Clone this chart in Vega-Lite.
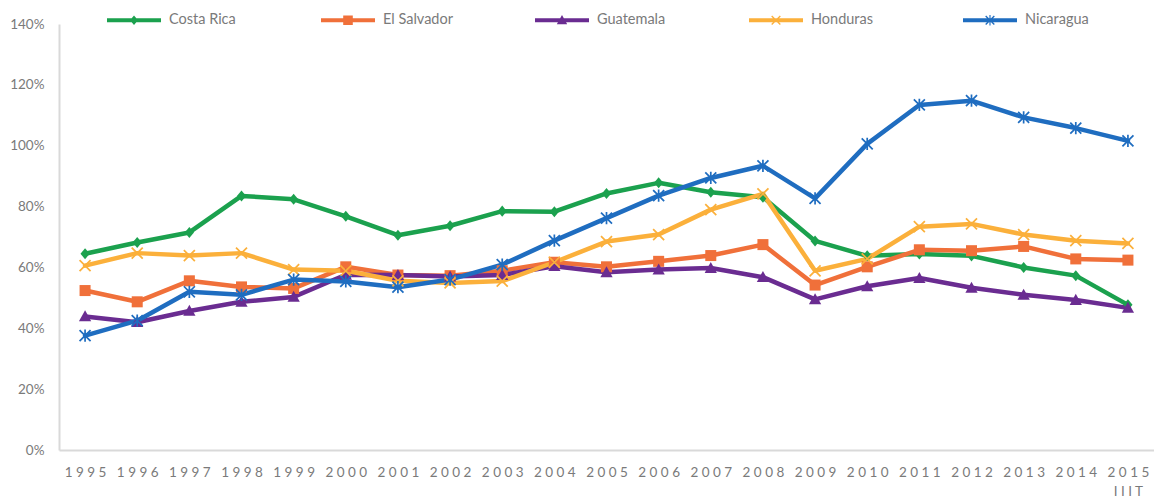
{
  "$schema": "https://vega.github.io/schema/vega-lite/v6.json",
  "width": 1095,
  "height": 426,
  "autosize": "none",
  "padding": {"left": 59, "top": 24, "right": 0, "bottom": 47},
  "background": "white",
  "config": {"view": {"stroke": null}, "font": "Lato"},
  "datasets": {
    "series": [
      {"year": "1995", "country": "Costa Rica", "value": 64.5},
      {"year": "1996", "country": "Costa Rica", "value": 68.2},
      {"year": "1997", "country": "Costa Rica", "value": 71.5},
      {"year": "1998", "country": "Costa Rica", "value": 83.5},
      {"year": "1999", "country": "Costa Rica", "value": 82.4},
      {"year": "2000", "country": "Costa Rica", "value": 76.8},
      {"year": "2001", "country": "Costa Rica", "value": 70.6},
      {"year": "2002", "country": "Costa Rica", "value": 73.7},
      {"year": "2003", "country": "Costa Rica", "value": 78.5},
      {"year": "2004", "country": "Costa Rica", "value": 78.3},
      {"year": "2005", "country": "Costa Rica", "value": 84.3},
      {"year": "2006", "country": "Costa Rica", "value": 87.8},
      {"year": "2007", "country": "Costa Rica", "value": 84.7},
      {"year": "2008", "country": "Costa Rica", "value": 83.1},
      {"year": "2009", "country": "Costa Rica", "value": 68.7},
      {"year": "2010", "country": "Costa Rica", "value": 63.8},
      {"year": "2011", "country": "Costa Rica", "value": 64.4},
      {"year": "2012", "country": "Costa Rica", "value": 63.8},
      {"year": "2013", "country": "Costa Rica", "value": 60.0},
      {"year": "2014", "country": "Costa Rica", "value": 57.3},
      {"year": "2015", "country": "Costa Rica", "value": 47.7},
      {"year": "1995", "country": "El Salvador", "value": 52.4},
      {"year": "1996", "country": "El Salvador", "value": 48.7},
      {"year": "1997", "country": "El Salvador", "value": 55.6},
      {"year": "1998", "country": "El Salvador", "value": 53.6},
      {"year": "1999", "country": "El Salvador", "value": 53.1},
      {"year": "2000", "country": "El Salvador", "value": 60.2},
      {"year": "2001", "country": "El Salvador", "value": 57.5},
      {"year": "2002", "country": "El Salvador", "value": 57.3},
      {"year": "2003", "country": "El Salvador", "value": 58.9},
      {"year": "2004", "country": "El Salvador", "value": 61.7},
      {"year": "2005", "country": "El Salvador", "value": 60.2},
      {"year": "2006", "country": "El Salvador", "value": 62.0},
      {"year": "2007", "country": "El Salvador", "value": 63.9},
      {"year": "2008", "country": "El Salvador", "value": 67.5},
      {"year": "2009", "country": "El Salvador", "value": 54.2},
      {"year": "2010", "country": "El Salvador", "value": 60.2},
      {"year": "2011", "country": "El Salvador", "value": 65.8},
      {"year": "2012", "country": "El Salvador", "value": 65.5},
      {"year": "2013", "country": "El Salvador", "value": 66.9},
      {"year": "2014", "country": "El Salvador", "value": 62.8},
      {"year": "2015", "country": "El Salvador", "value": 62.4},
      {"year": "1995", "country": "Guatemala", "value": 43.9},
      {"year": "1996", "country": "Guatemala", "value": 42.0},
      {"year": "1997", "country": "Guatemala", "value": 45.7},
      {"year": "1998", "country": "Guatemala", "value": 48.7},
      {"year": "1999", "country": "Guatemala", "value": 50.3},
      {"year": "2000", "country": "Guatemala", "value": 57.6},
      {"year": "2001", "country": "Guatemala", "value": 57.5},
      {"year": "2002", "country": "Guatemala", "value": 57.0},
      {"year": "2003", "country": "Guatemala", "value": 57.5},
      {"year": "2004", "country": "Guatemala", "value": 60.4},
      {"year": "2005", "country": "Guatemala", "value": 58.4},
      {"year": "2006", "country": "Guatemala", "value": 59.3},
      {"year": "2007", "country": "Guatemala", "value": 59.8},
      {"year": "2008", "country": "Guatemala", "value": 56.8},
      {"year": "2009", "country": "Guatemala", "value": 49.5},
      {"year": "2010", "country": "Guatemala", "value": 53.8},
      {"year": "2011", "country": "Guatemala", "value": 56.5},
      {"year": "2012", "country": "Guatemala", "value": 53.3},
      {"year": "2013", "country": "Guatemala", "value": 51.0},
      {"year": "2014", "country": "Guatemala", "value": 49.3},
      {"year": "2015", "country": "Guatemala", "value": 46.7},
      {"year": "1995", "country": "Honduras", "value": 60.6},
      {"year": "1996", "country": "Honduras", "value": 64.7},
      {"year": "1997", "country": "Honduras", "value": 63.9},
      {"year": "1998", "country": "Honduras", "value": 64.7},
      {"year": "1999", "country": "Honduras", "value": 59.3},
      {"year": "2000", "country": "Honduras", "value": 58.9},
      {"year": "2001", "country": "Honduras", "value": 55.6},
      {"year": "2002", "country": "Honduras", "value": 54.9},
      {"year": "2003", "country": "Honduras", "value": 55.5},
      {"year": "2004", "country": "Honduras", "value": 61.7},
      {"year": "2005", "country": "Honduras", "value": 68.5},
      {"year": "2006", "country": "Honduras", "value": 70.8},
      {"year": "2007", "country": "Honduras", "value": 79.0},
      {"year": "2008", "country": "Honduras", "value": 84.2},
      {"year": "2009", "country": "Honduras", "value": 58.9},
      {"year": "2010", "country": "Honduras", "value": 62.8},
      {"year": "2011", "country": "Honduras", "value": 73.4},
      {"year": "2012", "country": "Honduras", "value": 74.3},
      {"year": "2013", "country": "Honduras", "value": 70.8},
      {"year": "2014", "country": "Honduras", "value": 68.8},
      {"year": "2015", "country": "Honduras", "value": 67.9},
      {"year": "1995", "country": "Nicaragua", "value": 37.6},
      {"year": "1996", "country": "Nicaragua", "value": 42.5},
      {"year": "1997", "country": "Nicaragua", "value": 52.0},
      {"year": "1998", "country": "Nicaragua", "value": 51.0},
      {"year": "1999", "country": "Nicaragua", "value": 56.0},
      {"year": "2000", "country": "Nicaragua", "value": 55.4},
      {"year": "2001", "country": "Nicaragua", "value": 53.5},
      {"year": "2002", "country": "Nicaragua", "value": 56.0},
      {"year": "2003", "country": "Nicaragua", "value": 60.9},
      {"year": "2004", "country": "Nicaragua", "value": 68.8},
      {"year": "2005", "country": "Nicaragua", "value": 76.2},
      {"year": "2006", "country": "Nicaragua", "value": 83.6},
      {"year": "2007", "country": "Nicaragua", "value": 89.4},
      {"year": "2008", "country": "Nicaragua", "value": 93.4},
      {"year": "2009", "country": "Nicaragua", "value": 82.7},
      {"year": "2010", "country": "Nicaragua", "value": 100.6},
      {"year": "2011", "country": "Nicaragua", "value": 113.4},
      {"year": "2012", "country": "Nicaragua", "value": 114.8},
      {"year": "2013", "country": "Nicaragua", "value": 109.3},
      {"year": "2014", "country": "Nicaragua", "value": 105.8},
      {"year": "2015", "country": "Nicaragua", "value": 101.6}
    ]
  },
  "data": {"name": "series"},
  "encoding": {
    "x": {
      "field": "year",
      "type": "ordinal",
      "scale": {"type": "point", "padding": 0.5},
      "axis": {
        "title": null,
        "labelAngle": 0,
        "ticks": false,
        "grid": false,
        "domainColor": "#d9d9d9",
        "domainWidth": 2,
        "labelPadding": 15,
        "labelFont": "Lato",
        "labelFontSize": 13.5,
        "labelColor": "#7a7a7a",
        "labelLineHeight": 19,
        "labelBaseline": "top",
        "labelExpr": "datum.value === '2015' ? ['2 0 1 5', 'I I I T'] : join(split(datum.value, ''), ' ')"
      }
    },
    "y": {
      "field": "value",
      "type": "quantitative",
      "scale": {"domain": [0, 140], "nice": false},
      "axis": {
        "title": null,
        "values": [0, 20, 40, 60, 80, 100, 120, 140],
        "labelExpr": "datum.value + '%'",
        "grid": false,
        "ticks": false,
        "domainColor": "#d9d9d9",
        "domainWidth": 2,
        "labelPadding": 15,
        "labelFont": "Lato",
        "labelFontSize": 13.5,
        "labelColor": "#7a7a7a"
      }
    },
    "color": {
      "field": "country",
      "type": "nominal",
      "scale": {
        "domain": ["Costa Rica", "El Salvador", "Guatemala", "Honduras", "Nicaragua"],
        "range": ["#1ba14e", "#f0703a", "#6a2c91", "#fbb03b", "#1f6dc0"]
      },
      "legend": {
        "title": null,
        "orient": "none",
        "legendX": 48,
        "legendY": -12,
        "direction": "horizontal",
        "columns": 5,
        "gridAlign": "all",
        "columnPadding": 82,
        "symbolSize": 256,
        "symbolType": "M-1,-0.25H5.75V0.25H-1Z",
        "labelOffset": 46,
        "labelFont": "Lato",
        "labelFontSize": 14.5,
        "labelColor": "#7a7a7a",
        "encode": {
          "symbols": {
            "update": {
              "shape": {"signal": "datum.value === 'Costa Rica' ? 'M-1,-0.25H5.75V0.25H-1ZM2.375,-0.6L2.875,0L2.375,0.6L1.875,0Z' : datum.value === 'El Salvador' ? 'M-1,-0.25H5.75V0.25H-1ZM1.775,-0.6H2.975V0.6H1.775Z' : datum.value === 'Guatemala' ? 'M-1,-0.25H5.75V0.25H-1ZM2.375,-0.65L3.025,0.5H1.725Z' : datum.value === 'Honduras' ? 'M-1,-0.25H5.75V0.25H-1ZM1.775,-0.48L1.895,-0.6L2.975,0.48L2.855,0.6ZM2.855,-0.6L2.975,-0.48L1.895,0.6L1.775,0.48Z' : 'M-1,-0.25H5.75V0.25H-1ZM1.775,-0.48L1.895,-0.6L2.975,0.48L2.855,0.6ZM2.855,-0.6L2.975,-0.48L1.895,0.6L1.775,0.48ZM2.305,-0.65H2.445V0.65H2.305Z'"},
              "fill": {"signal": "scale('color', datum.value)"},
              "stroke": {"value": "transparent"},
              "strokeWidth": {"value": 0},
              "size": {"value": 256},
              "opacity": {"value": 1}
            }
          }
        }
      }
    }
  },
  "layer": [
    {
      "mark": {"type": "line", "strokeWidth": 4.5, "strokeJoin": "round", "strokeCap": "round"}
    },
    {
      "transform": [{"filter": "datum.country === 'Costa Rica'"}],
      "mark": {"type": "point", "filled": true, "size": 150, "opacity": 1, "strokeWidth": 0, "shape": "M0,-0.9L0.75,0L0,0.9L-0.75,0Z"}
    },
    {
      "transform": [{"filter": "datum.country === 'El Salvador'"}],
      "mark": {"type": "point", "filled": true, "size": 150, "opacity": 1, "strokeWidth": 0, "shape": "M-0.9,-0.9H0.9V0.9H-0.9Z"}
    },
    {
      "transform": [{"filter": "datum.country === 'Guatemala'"}],
      "mark": {"type": "point", "filled": true, "size": 150, "opacity": 1, "strokeWidth": 0, "shape": "M0,-1L1,0.8H-1Z"}
    },
    {
      "transform": [{"filter": "datum.country === 'Honduras'"}],
      "mark": {"type": "point", "filled": true, "size": 150, "opacity": 1, "strokeWidth": 0, "shape": "M-1,-0.8L-0.8,-1L1,0.8L0.8,1ZM0.8,-1L1,-0.8L-0.8,1L-1,0.8Z"}
    },
    {
      "transform": [{"filter": "datum.country === 'Nicaragua'"}],
      "mark": {"type": "point", "filled": true, "size": 150, "opacity": 1, "strokeWidth": 0, "shape": "M-1,-0.8L-0.8,-1L1,0.8L0.8,1ZM0.8,-1L1,-0.8L-0.8,1L-1,0.8ZM-0.14,-1H0.14V1H-0.14Z"}
    }
  ]
}
